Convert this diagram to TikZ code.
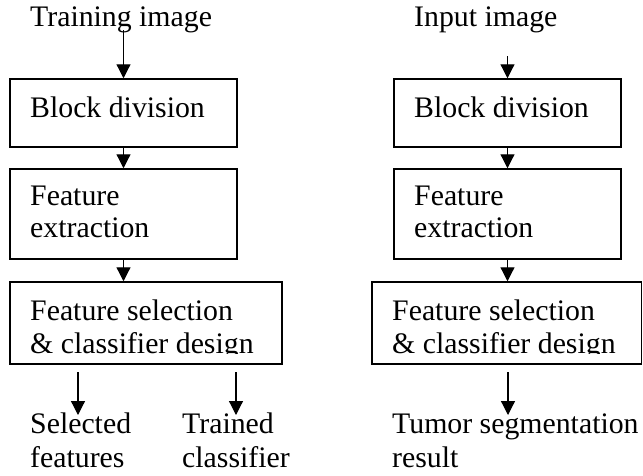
\documentclass[tikz,border=0pt]{standalone}
\usepackage{fontspec}
\setmainfont{Liberation Serif}
\usetikzlibrary{arrows.meta}
\begin{document}
\begin{tikzpicture}[x=1pt,y=-1pt,
 box/.style={draw,line width=1.5pt,inner sep=0pt},
 lbl/.style={anchor=base west,inner sep=0pt,font=\fontsize{29.8}{32}\selectfont},
 arr/.style={line width=1.2pt,-{Triangle[width=14pt,length=14pt]}}]
\useasboundingbox[fill=white] (0,0) rectangle (643,475);
% left column boxes
\node[box,minimum width=227pt,minimum height=68pt] (l1) at (123.5,113) {};
\node[box,minimum width=227pt,minimum height=90pt] (l2) at (123.5,214) {};
\node[box,minimum width=272pt,minimum height=82pt] (l3) at (146,323) {};
% right column boxes
\node[box,minimum width=227pt,minimum height=68pt] (r1) at (507.5,113) {};
\node[box,minimum width=227pt,minimum height=90pt] (r2) at (507.5,214) {};
\node[box,minimum width=269.5pt,minimum height=82pt] (r3) at (506.75,323) {};
% labels
\node[lbl] (train) at (30,26) {Training image};
\node[lbl] (input) at (414,26) {Input image};
\node[lbl] (l1t) at (30,117) {Block division};
\node[lbl] (r1t) at (414,117) {Block division};
\node[lbl] (l2ta) at (30,205) {Feature};
\node[lbl] (l2tb) at (30,237) {extraction};
\node[lbl] (r2ta) at (414,205) {Feature};
\node[lbl] (r2tb) at (414,237) {extraction};
\begin{scope}
\clip (10,282) rectangle (282,353.5);
\node[lbl] (l3ta) at (30,320) {Feature selection};
\node[lbl] (l3tb) at (30,353) {\& classifier design};
\end{scope}
\begin{scope}
\clip (372,282) rectangle (642,353.5);
\node[lbl] (r3ta) at (392,320) {Feature selection};
\node[lbl] (r3tb) at (392,353) {\& classifier design};
\end{scope}
\node[lbl] (sel1) at (30,433) {Selected};
\node[lbl] (sel2) at (30,467) {features};
\node[lbl] (tr1) at (182,433) {Trained};
\node[lbl] (tr2) at (182,467) {classifier};
\node[lbl] (tu1) at (392,433) {Tumor segmentation};
\node[lbl] (tu2) at (392,467) {result};
% free ends
\coordinate (ls) at (123.5,30);
\coordinate (rs) at (507.5,56);
\coordinate (o1s) at (78,372);
\coordinate (o1e) at (78,415);
\coordinate (o2s) at (236,372);
\coordinate (o2e) at (236,415);
\coordinate (o3s) at (508,372);
\coordinate (o3e) at (508,415);
% arrows
\draw[arr] (ls) -- (l1.north);
\draw[arr] (l1.south) -- (l2.north);
\draw[arr] (l2.south) -- (l2.south |- l3.north);
\draw[arr] (rs) -- (r1.north);
\draw[arr] (r1.south) -- (r2.north);
\draw[arr] (r2.south) -- (r2.south |- r3.north);
\draw[arr] (o1s) -- (o1e);
\draw[arr] (o2s) -- (o2e);
\draw[arr] (o3s) -- (o3e);
\end{tikzpicture}
\end{document}
